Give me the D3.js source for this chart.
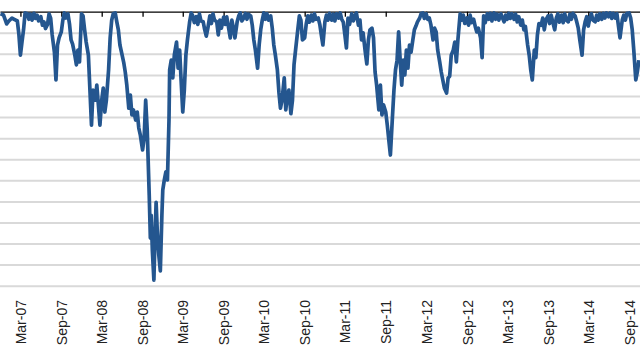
<!DOCTYPE html>
<html>
<head>
<meta charset="utf-8">
<script src="https://cdn.jsdelivr.net/npm/d3@7"></script>
<style>
  html, body { margin: 0; padding: 0; background: #fff; }
  svg { display: block; }
  .labels text { font-family: "Liberation Sans", Arial, sans-serif; font-size: 14px; fill: #222; }
</style>
</head>
<body>
<div id="chartContainer"></div>
<script>
// drawdown from previous peak, in %, roughly weekly
const dates = [
  '2006-12-01','2006-12-15','2006-12-29',
  '2007-01-08','2007-01-22','2007-02-01','2007-02-15','2007-02-22',
  '2007-03-01','2007-03-08','2007-03-15','2007-03-22','2007-04-01','2007-04-08','2007-04-15','2007-04-22',
  '2007-05-01','2007-05-08','2007-05-15','2007-05-22','2007-06-01','2007-06-08','2007-06-15','2007-06-22',
  '2007-07-01','2007-07-08','2007-07-15','2007-07-22','2007-08-01','2007-08-08','2007-08-15','2007-08-22',
  '2007-09-01','2007-09-08','2007-09-15','2007-09-22','2007-10-01','2007-10-08','2007-10-15','2007-10-22',
  '2007-11-01','2007-11-08','2007-11-15','2007-11-22','2007-12-01','2007-12-08','2007-12-15','2007-12-22',
  // 2008
  '2008-01-01','2008-01-08','2008-01-15','2008-01-22','2008-02-01','2008-02-08','2008-02-15','2008-02-22',
  '2008-03-01','2008-03-08','2008-03-15','2008-03-22','2008-04-01','2008-04-08','2008-04-15','2008-04-22',
  '2008-05-01','2008-05-08','2008-05-15','2008-05-22','2008-06-01','2008-06-08','2008-06-15','2008-06-22',
  '2008-07-01','2008-07-08','2008-07-15','2008-07-22','2008-08-01','2008-08-08','2008-08-15','2008-08-22',
  '2008-09-01','2008-09-08','2008-09-15','2008-09-22',
  '2008-10-01','2008-10-06','2008-10-10','2008-10-15','2008-10-22','2008-10-27',
  '2008-11-01','2008-11-06','2008-11-13','2008-11-20','2008-11-27',
  '2008-12-01','2008-12-08','2008-12-15','2008-12-22','2008-12-29',
  // 2009
  '2009-01-01','2009-01-08','2009-01-15','2009-01-22','2009-02-01','2009-02-08','2009-02-15','2009-02-22',
  '2009-03-01','2009-03-08','2009-03-15','2009-03-22','2009-04-01','2009-04-08','2009-04-15','2009-04-22',
  '2009-05-01','2009-05-08','2009-05-15','2009-05-22','2009-06-01','2009-06-08','2009-06-15','2009-06-22',
  '2009-07-01','2009-07-08','2009-07-15','2009-07-22','2009-08-01','2009-08-08','2009-08-15','2009-08-22',
  '2009-09-01','2009-09-08','2009-09-15','2009-09-22','2009-10-01','2009-10-08','2009-10-15','2009-10-22',
  '2009-11-01','2009-11-08','2009-11-15','2009-11-22','2009-12-01','2009-12-08','2009-12-15','2009-12-22',
  // 2010
  '2010-01-01','2010-01-08','2010-01-15','2010-01-22','2010-02-01','2010-02-08','2010-02-15','2010-02-22',
  '2010-03-01','2010-03-08','2010-03-15','2010-03-22','2010-04-01','2010-04-08','2010-04-15','2010-04-22',
  '2010-05-01','2010-05-08','2010-05-15','2010-05-22','2010-06-01','2010-06-08','2010-06-15','2010-06-22',
  '2010-07-01','2010-07-08','2010-07-15','2010-07-22','2010-08-01','2010-08-08','2010-08-15','2010-08-22',
  '2010-09-01','2010-09-08','2010-09-15','2010-09-22','2010-10-01','2010-10-08','2010-10-15','2010-10-22',
  '2010-11-01','2010-11-08','2010-11-15','2010-11-22','2010-12-01','2010-12-08','2010-12-15','2010-12-22',
  // 2011
  '2011-01-01','2011-01-08','2011-01-15','2011-01-22','2011-02-01','2011-02-08','2011-02-15','2011-02-22',
  '2011-03-01','2011-03-08','2011-03-15','2011-03-22','2011-04-01','2011-04-08','2011-04-15','2011-04-22',
  '2011-05-01','2011-05-08','2011-05-15','2011-05-22','2011-06-01','2011-06-08','2011-06-15','2011-06-22',
  '2011-07-01','2011-07-08','2011-07-15','2011-07-22','2011-08-01','2011-08-08','2011-08-15','2011-08-22',
  '2011-09-01','2011-09-08','2011-09-15','2011-09-22',
  '2011-10-01','2011-10-08','2011-10-15','2011-10-22','2011-10-29',
  '2011-11-05','2011-11-12','2011-11-19','2011-11-26','2011-12-03','2011-12-10','2011-12-17','2011-12-24',
  // 2012
  '2012-01-01','2012-01-08','2012-01-15','2012-01-22','2012-02-01','2012-02-08','2012-02-15','2012-02-22',
  '2012-03-01','2012-03-08','2012-03-15','2012-03-22','2012-04-01','2012-04-08','2012-04-15','2012-04-22',
  '2012-05-01','2012-05-08','2012-05-15','2012-05-22','2012-06-01','2012-06-08','2012-06-15','2012-06-22',
  '2012-07-01','2012-07-08','2012-07-15','2012-07-22','2012-08-01','2012-08-08','2012-08-15','2012-08-22',
  '2012-09-01','2012-09-08','2012-09-15','2012-09-22','2012-10-01','2012-10-08','2012-10-15','2012-10-22',
  '2012-11-01','2012-11-08','2012-11-15','2012-11-22','2012-12-01','2012-12-08','2012-12-15','2012-12-22',
  // 2013
  '2013-01-01','2013-01-08','2013-01-15','2013-01-22','2013-02-01','2013-02-08','2013-02-15','2013-02-22',
  '2013-03-01','2013-03-08','2013-03-15','2013-03-22','2013-04-01','2013-04-08','2013-04-15','2013-04-22',
  '2013-05-01','2013-05-08','2013-05-15','2013-05-22','2013-06-01','2013-06-08','2013-06-15','2013-06-22',
  '2013-07-01','2013-07-08','2013-07-15','2013-07-22','2013-08-01','2013-08-08','2013-08-15','2013-08-22',
  '2013-09-01','2013-09-08','2013-09-15','2013-09-22','2013-10-01','2013-10-08','2013-10-15','2013-10-22',
  '2013-11-01','2013-11-08','2013-11-15','2013-11-22','2013-12-01','2013-12-08','2013-12-15','2013-12-22',
  // 2014
  '2014-01-01','2014-01-08','2014-01-15','2014-01-22','2014-02-01','2014-02-08','2014-02-15','2014-02-22',
  '2014-03-01','2014-03-08','2014-03-15','2014-03-22','2014-04-01','2014-04-08','2014-04-15','2014-04-22',
  '2014-05-01','2014-05-08','2014-05-15','2014-05-22','2014-06-01','2014-06-08','2014-06-15','2014-06-22',
  '2014-07-01','2014-07-08','2014-07-15','2014-07-22','2014-08-01','2014-08-08','2014-08-15','2014-08-22',
  '2014-09-01','2014-09-08','2014-09-15','2014-09-22','2014-10-01','2014-10-08','2014-10-15'
];

const drawdown = [
  -0.5, -0.8, -2.9,
  -2.2, -1.5, -1.8, -2.2, -5.3,
  -10.3, -7.2, -4.3, -0.3, -0.5, -1.8, -0.6, -2.0,
  -0.4, -1.6, -0.8, -2.2, -1.2, -3.2, -2.4, -4.0,
  -3.0, -0.5, -1.5, -5.5, -9.6, -16.2, -7.9, -6.2,
  -4.8, -2.0, -0.3, -1.5, -0.5, -2.9, -6.7, -7.7,
  -10.3, -12.6, -9.1, -11.9, -0.5, -1.0, -4.3, -7.2,
  // 2008
  -10.3, -18.6, -26.9, -18.6, -21.0, -17.4, -22.1, -26.9,
  -21.0, -18.1, -23.8, -21.0, -13.8, -6.2, -2.0, -0.5,
  -0.3, -2.4, -4.3, -7.9, -10.3, -12.0, -14.3, -17.4,
  -22.9, -19.8, -24.5, -23.3, -25.7, -23.8, -27.6, -29.3,
  -32.8, -30.0, -21.0, -28.1,
  -43.5, -53.7, -48.3, -56.6, -63.7, -53.7,
  -45.2, -51.8, -57.7, -61.5, -48.3,
  -42.3, -39.9, -38.0, -39.9, -25.7,
  // 2009
  -13.8, -11.5, -15.7, -10.3, -7.2, -13.4, -9.1, -16.7,
  -23.8, -18.6, -10.3, -6.7, -2.4, -0.3, -1.0, -2.6,
  -1.2, -3.0, -0.5, -2.2, -2.4, -4.3, -5.8, -3.9,
  -1.0, -2.8, -0.5, -2.0, -2.4, -5.5, -2.0, -3.9,
  -1.3, -3.0, -1.2, -3.4, -6.2, -2.0, -3.9, -6.2,
  -2.4, -1.0, -0.3, -2.2, -1.5, -0.4, -1.8, -0.6,
  // 2010
  -1.0, -3.2, -6.7, -9.1, -13.4, -7.9, -4.3, -2.0,
  -0.3, -1.8, -0.5, -2.0, -1.0, -3.9, -7.9, -10.3,
  -13.8, -19.1, -22.9, -21.0, -15.7, -23.3, -19.8, -18.6,
  -24.2, -21.0, -12.6, -9.1, -4.3, -1.0, -2.0, -6.7,
  -6.2, -2.9, -1.0, -2.5, -0.8, -2.2, -0.5, -1.8,
  -1.5, -3.0, -5.5, -7.9, -2.4, -0.8, -2.0, -0.4,
  // 2011
  -2.0, -0.6, -2.2, -0.5, -1.5, -0.3, -1.8, -2.5,
  -5.5, -8.6, -1.5, -3.0, -0.5, -2.2, -1.0, -0.3,
  -3.2, -2.0, -6.7, -5.0, -9.6, -12.4, -6.7, -4.3,
  -3.9, -6.2, -14.3, -17.4, -23.3, -17.4, -24.5, -22.1,
  -23.8, -26.9, -30.5, -34.0,
  -25.2, -18.6, -13.8, -11.5, -4.8,
  -11.5, -17.4, -11.5, -15.0, -9.1, -13.4, -7.9, -9.6,
  // 2012
  -6.7, -4.3, -3.4, -2.4, -1.5, -0.4, -0.3, -1.6,
  -0.5, -1.8, -1.5, -3.0, -6.7, -3.9, -4.8, -9.1,
  -11.9, -14.3, -16.2, -18.1, -19.3, -15.7, -15.3, -10.3,
  -9.1, -7.2, -11.9, -6.7, -0.5, -2.0, -0.8, -2.8,
  -1.5, -3.2, -0.8, -2.6, -1.8, -3.5, -4.8, -3.9,
  -6.2, -10.9, -1.0, -2.6, -0.5, -1.8, -0.4, -2.2,
  // 2013
  -0.3, -1.8, -0.6, -2.0, -0.5, -1.5, -2.4, -0.8,
  -1.8, -0.4, -1.6, -0.5, -1.8, -0.6, -2.4, -1.2,
  -3.2, -2.0, -4.3, -3.5, -7.9, -10.3, -13.8, -16.2,
  -9.1, -10.9, -5.5, -2.8, -3.2, -1.5, -4.3, -2.0,
  -1.0, -2.8, -0.8, -2.4, -4.3, -1.5, -0.5, -2.5,
  -0.8, -2.6, -0.5, -2.0, -2.4, -0.6, -1.8, -0.4,
  // 2014
  -1.0, -2.4, -3.9, -6.7, -10.3, -4.3, -2.4, -1.2,
  -3.4, -1.5, -0.5, -2.0, -2.4, -0.8, -2.0, -0.5,
  -1.8, -0.4, -1.5, -0.3, -1.2, -0.3, -1.6, -0.4,
  -1.5, -0.5, -3.4, -6.2, -2.0, -0.8, -2.0, -0.4,
  -0.3, -1.5, -4.3, -9.1, -16.2, -14.3, -11.5
];

const tickDates = [
  '2007-03-01','2007-09-01','2008-03-01','2008-09-01','2009-03-01','2009-09-01',
  '2010-03-01','2010-09-01','2011-03-01','2011-09-01','2012-03-01','2012-09-01',
  '2013-03-01','2013-09-01','2014-03-01','2014-09-01'
];

const gridValues = [-5, -10, -15, -20, -25, -30, -35, -40, -45, -50, -55, -60, -65];

var width = 640,
    height = 360;

const parse = d3.utcParse('%Y-%m-%d');
const data = dates.map(function (d, i) {
  return { date: parse(d), value: drawdown[i] };
});

var svg = d3.select('#chartContainer')
  .append('svg')
  .attr('width', width)
  .attr('height', height);

var xScale = d3.scaleUtc()
  .domain([parse('2006-11-29'), parse('2014-10-20')])
  .range([0, width]);

var yScale = d3.scaleLinear()
  .domain([-65, 0])
  .range([285.7, 11.7]);

// gridlines
var grid = svg.append('g')
  .call(d3.axisLeft(yScale).tickValues(gridValues).tickSize(-width).tickFormat(''));
grid.select('.domain').remove();
grid.selectAll('line')
  .attr('stroke', '#d9d9d9')
  .attr('stroke-width', 2);

// zero line with ticks
var zeroAxis = svg.append('g')
  .attr('transform', 'translate(0,' + yScale(0) + ')')
  .call(d3.axisBottom(xScale)
    .tickValues(tickDates.map(parse))
    .tickSize(5)
    .tickSizeOuter(0)
    .tickFormat(''));
zeroAxis.select('.domain').attr('stroke', '#000').attr('stroke-width', 1.3);
zeroAxis.selectAll('line').attr('stroke', '#000').attr('stroke-width', 1.3);

// rotated date labels
var labels = svg.append('g')
  .attr('class', 'labels')
  .attr('transform', 'translate(0,300)')
  .call(d3.axisBottom(xScale)
    .tickValues(tickDates.map(parse))
    .tickSize(0)
    .tickFormat(d3.utcFormat('%b-%y')));
labels.select('.domain').remove();
labels.selectAll('text')
  .attr('transform', 'rotate(-90)')
  .attr('text-anchor', 'end')
  .attr('x', 0)
  .attr('y', 0)
  .attr('dy', '0.36em');

svg.append('clipPath')
  .attr('id', 'plotClip')
  .append('rect')
  .attr('x', 0)
  .attr('y', 11)
  .attr('width', width)
  .attr('height', 290);

var line = d3.line()
  .x(function (d) { return xScale(d.date); })
  .y(function (d) { return yScale(d.value); });

svg.append('path')
  .datum(data)
  .attr('clip-path', 'url(#plotClip)')
  .attr('d', line)
  .attr('fill', 'none')
  .attr('stroke', '#24568f')
  .attr('stroke-width', 3.7)
  .attr('stroke-linejoin', 'round');
</script>
</body>
</html>
